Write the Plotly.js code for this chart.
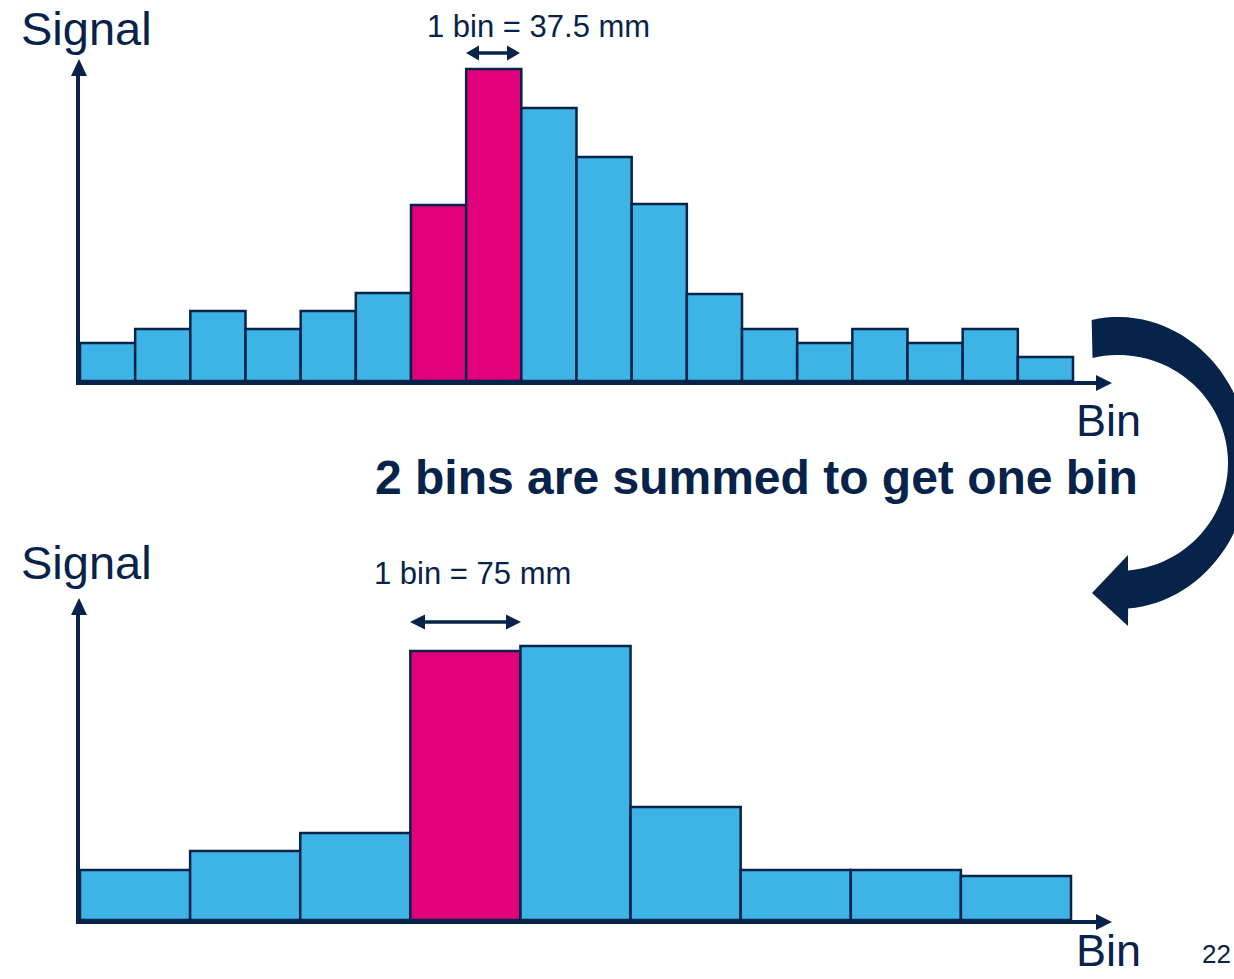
<!DOCTYPE html>
<html>
<head>
<meta charset="utf-8">
<script src="https://cdn.plot.ly/plotly-3.0.1.min.js"></script>
<style>
  html, body { margin: 0; padding: 0; background: #ffffff; }
  #chart { width: 1234px; height: 979px; }
</style>
</head>
<body>
<div id="chart"></div>
<script>
// ---------------- data ----------------
const topBins = [1, 2, 3, 4, 5, 6, 7, 8, 9, 10, 11, 12, 13, 14, 15, 16, 17, 18];
const topSignal = [38, 52, 70, 52, 70, 88, 176, 312, 273, 224, 177, 87, 52, 38, 52, 38, 52, 24];
const topHighlighted = [7, 8];

const bottomBins = [1, 2, 3, 4, 5, 6, 7, 8, 9];
const bottomSignal = [50, 69, 87, 269, 274, 113, 50, 50, 44];
const bottomHighlighted = [4];

const axisTitleY = "Signal";
const axisTitleX = "Bin";
const topWidthLabel = "1 bin = 37.5 mm";
const bottomWidthLabel = "1 bin = 75 mm";
const middleCaption = "2 bins are summed to get one bin";
const pageNumber = "22";

// ---------------- styling ----------------
const W = 1234, H = 979;
const NAVY = "#07234A";
const BLUE = "#3DB4E5";
const PINK = "#E3007B";
const FONT = "Liberation Sans, Arial, sans-serif";

function px(x) { return x / W; }
function py(y) { return 1 - y / H; }
function pt(x, y) { return px(x).toFixed(5) + "," + py(y).toFixed(5); }
function poly(points) {
  return "M " + points.map(p => pt(p[0], p[1])).join(" L ") + " Z";
}

// plot geometry (pixels)
const axisLeft = 80, axisRightEnd = 1100;
const topBase = 381, topAxisTop = 66;
const botBase = 920, botAxisTop = 605;
const topBinPx = (1072 - 79) / 18;
const botBinPx = (1070 - 79) / 9;

const topColors = topBins.map(b => topHighlighted.includes(b) ? PINK : BLUE);
const bottomColors = bottomBins.map(b => bottomHighlighted.includes(b) ? PINK : BLUE);

const traces = [
  {
    type: "bar", x: topBins, y: topSignal, xaxis: "x", yaxis: "y",
    width: 1, marker: { color: topColors, line: { color: NAVY, width: 2.5 } },
    hoverinfo: "skip"
  },
  {
    type: "bar", x: bottomBins, y: bottomSignal, xaxis: "x2", yaxis: "y2",
    width: 1, marker: { color: bottomColors, line: { color: NAVY, width: 2.5 } },
    hoverinfo: "skip"
  }
];

function axisCommon() {
  return {
    showgrid: false, zeroline: false, showticklabels: false, ticks: "",
    showline: true, linecolor: NAVY, linewidth: 4, fixedrange: true
  };
}

const topXRange = [0.5, 0.5 + (axisRightEnd - axisLeft) / topBinPx];
const botXRange = [0.5, 0.5 + (axisRightEnd - axisLeft) / botBinPx];

// arrows
function upArrowHead(x, tipY) { return poly([[x, tipY], [x - 8, tipY + 17], [x + 8, tipY + 17]]); }
function rightArrowHead(tipX, y) { return poly([[tipX, y], [tipX - 16, y - 8], [tipX - 16, y + 8]]); }
function doubleArrow(x1, x2, y, hl, hh, sh) {
  return poly([
    [x1, y], [x1 + hl, y - hh], [x1 + hl, y - sh], [x2 - hl, y - sh],
    [x2 - hl, y - hh], [x2, y], [x2 - hl, y + hh], [x2 - hl, y + sh],
    [x1 + hl, y + sh], [x1 + hl, y + hh]
  ]);
}
function curvedArrow() {
  const cx = 1118, cy = 463;
  const pts = [];
  const oRx = 132, oRy = 146, iRx = 110, iRy = 108;
  const o0 = -101.5, o1 = 85.6, i0 = -103.4, i1 = 84.8;
  const n = 60;
  for (let k = 0; k <= n; k++) {
    const t = (o0 + (o1 - o0) * k / n) * Math.PI / 180;
    pts.push([cx + oRx * Math.cos(t), cy + oRy * Math.sin(t)]);
  }
  pts.push([1128, 626]);
  pts.push([1092, 593]);
  pts.push([1128, 555]);
  for (let k = 0; k <= n; k++) {
    const t = (i1 + (i0 - i1) * k / n) * Math.PI / 180;
    pts.push([cx + iRx * Math.cos(t), cy + iRy * Math.sin(t)]);
  }
  return poly(pts);
}

const shapeBase = { type: "path", xref: "paper", yref: "paper", fillcolor: NAVY, line: { width: 0 } };
const shapes = [
  Object.assign({}, shapeBase, { path: upArrowHead(79, 59) }),
  Object.assign({}, shapeBase, { path: rightArrowHead(1112, 383) }),
  Object.assign({}, shapeBase, { path: upArrowHead(79, 598) }),
  Object.assign({}, shapeBase, { path: rightArrowHead(1112, 922) }),
  Object.assign({}, shapeBase, { path: doubleArrow(466, 520, 53, 13, 7.5, 1.8) }),
  Object.assign({}, shapeBase, { path: doubleArrow(410, 521, 622, 15, 7.5, 1.8) }),
  Object.assign({}, shapeBase, { path: curvedArrow() })
];

function ann(text, x, y, size, bold, anchor) {
  return {
    text: bold ? "<b>" + text + "</b>" : text,
    xref: "paper", yref: "paper", x: px(x), y: py(y),
    xanchor: anchor || "center", yanchor: "middle", showarrow: false,
    font: { family: FONT, size: size, color: NAVY }
  };
}

const annotations = [
  ann(axisTitleY, 87, 28, 47),
  ann(axisTitleY, 87, 562, 47),
  ann(axisTitleX, 1108, 421, 45),
  ann(axisTitleX, 1108, 950, 45),
  ann(topWidthLabel, 538, 27, 31),
  ann(bottomWidthLabel, 472, 573, 31),
  ann(middleCaption, 757, 477, 48, true),
  ann(pageNumber, 1216, 954, 26)
];

const layout = {
  width: W, height: H,
  margin: { l: 0, r: 0, t: 0, b: 0, pad: 0 },
  paper_bgcolor: "#ffffff", plot_bgcolor: "#ffffff",
  showlegend: false, bargap: 0,
  xaxis: Object.assign(axisCommon(), { domain: [px(axisLeft), px(axisRightEnd)], range: topXRange, anchor: "y" }),
  yaxis: Object.assign(axisCommon(), { domain: [py(topBase), py(topAxisTop)], range: [0, topBase - topAxisTop], anchor: "x" }),
  xaxis2: Object.assign(axisCommon(), { domain: [px(axisLeft), px(axisRightEnd)], range: botXRange, anchor: "y2" }),
  yaxis2: Object.assign(axisCommon(), { domain: [py(botBase), py(botAxisTop)], range: [0, botBase - botAxisTop], anchor: "x2" }),
  shapes: shapes,
  annotations: annotations
};

Plotly.newPlot("chart", traces, layout, { displayModeBar: false, staticPlot: true });
</script>
</body>
</html>
